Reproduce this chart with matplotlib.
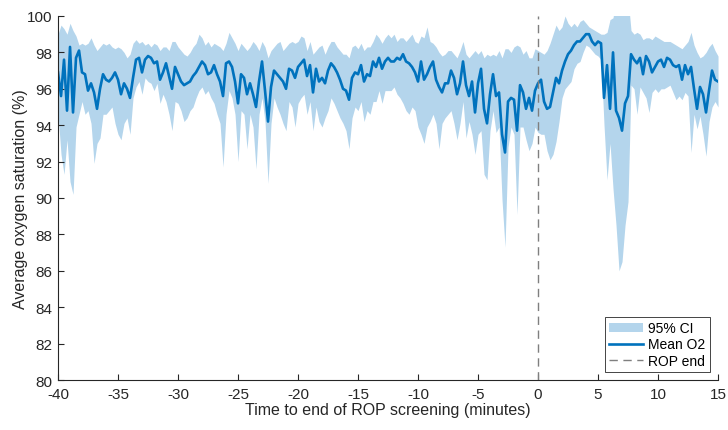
import numpy as np
import matplotlib
matplotlib.use("Agg")
import matplotlib.pyplot as plt

plt.rcParams['font.family'] = ['Liberation Sans', 'DejaVu Sans']
plt.rcParams['axes.unicode_minus'] = False

# time relative to end of ROP screening (minutes), 15 s resolution
t_start, t_end, t_step = -40.0, 15.0, 0.25

mean_o2 = [
    # -40 .. -31.25
    96.9, 95.6, 97.6, 94.8, 98.3, 94.7, 97.7, 98.1, 96.9, 96.8, 95.9, 96.3,
    95.8, 94.9, 96.0, 96.8, 96.5, 96.4, 96.6, 96.9, 96.5, 95.7, 96.3, 96.0,
    95.5, 96.6, 97.6, 97.7, 96.9, 97.6, 97.8, 97.7, 97.4, 97.5, 96.5, 96.9,
    # -31 .. -22
    97.4, 96.7, 96.0, 97.2, 96.8, 96.4, 96.2, 96.3, 96.4, 96.7, 96.9, 97.2,
    97.5, 97.3, 96.8, 96.9, 97.3, 96.8, 96.4, 95.6, 97.4, 97.5, 97.2, 96.4,
    95.2, 96.8, 96.6, 95.7, 96.3, 95.7, 95.0, 96.4, 97.5, 95.9, 94.2, 96.1,
    97.0,
    # -21.75 .. -12.75
    96.8, 96.6, 96.4, 96.0, 97.1, 97.0, 96.6, 97.2, 97.4, 97.6, 96.7, 97.3,
    95.8, 97.1, 96.4, 96.6, 96.3, 97.0, 97.4, 97.2, 96.9, 96.5, 96.0, 95.9,
    95.4, 96.6, 96.9, 96.8, 97.3, 96.4, 96.8, 96.7, 97.5, 97.2, 97.7, 97.1,
    97.5,
    # -12.5 .. -3.75
    97.7, 97.5, 97.5, 97.7, 97.6, 97.9, 97.5, 97.4, 97.2, 96.9, 96.4, 97.5,
    96.5, 96.8, 97.2, 97.5, 96.5, 96.1, 95.8, 96.3, 96.3, 97.0, 96.6, 95.7,
    96.3, 97.5, 96.2, 95.6, 96.4, 94.7, 96.3, 97.1, 94.9, 94.1, 95.7, 96.8,
    # -3.5 .. 15
    95.6, 95.8, 93.5, 92.5, 95.3, 95.5, 95.4, 93.7, 96.2, 95.8, 94.9, 95.5,
    94.8, 95.9, 96.3, 96.5, 95.3, 94.9, 95.0, 95.8, 96.6, 96.3, 97.0, 97.5,
    97.9, 98.1, 98.4, 98.6, 98.6, 98.8, 99.0, 99.0, 98.6, 98.4, 98.6, 98.5,
    95.5, 97.3, 94.9, 98.0, 94.8, 94.4, 93.7, 95.2, 95.6, 97.9, 97.6, 97.4,
    97.7, 96.8, 97.8, 97.5, 96.9, 97.2, 97.5, 97.6, 97.2, 97.7, 97.6, 97.3,
    97.2, 97.3, 96.5, 97.3, 96.8, 97.2, 96.0, 94.9, 96.1, 95.7, 94.7, 95.9,
    97.0, 96.5, 96.4,
]

ci_upper = [
    # -40 .. -31.25
    99.0, 99.5, 99.3, 99.0, 99.6, 99.2, 98.9, 98.4, 98.5, 98.4, 98.5, 98.8,
    98.4, 98.1, 98.3, 98.5, 98.4, 98.5, 98.3, 98.2, 98.3, 98.2, 98.0, 97.7,
    97.9, 98.5, 98.7, 98.5, 98.6, 98.4, 98.5, 98.3, 98.5, 98.4, 98.1, 98.3,
    # -31 .. -22
    98.3, 98.1, 98.6, 98.6, 98.3, 98.1, 97.9, 97.8, 98.0, 98.3, 98.5, 99.0,
    98.8, 98.4, 98.6, 98.3, 98.5, 98.4, 98.3, 98.1, 98.5, 99.1, 98.8, 98.5,
    98.1, 98.5, 98.3, 98.1, 98.3, 98.6, 98.4, 98.1, 98.6, 98.3, 97.7, 98.1,
    98.3,
    # -21.75 .. -12.75
    98.5, 98.6, 98.1, 98.3, 98.5, 98.6, 98.5, 98.6, 98.9, 98.8, 98.1, 98.6,
    97.9, 98.1, 98.3, 98.4, 97.9, 98.3, 98.6, 98.6, 98.3, 98.1, 97.9, 97.9,
    97.7, 98.3, 98.4, 98.2, 98.5, 98.1, 98.3, 98.3, 98.6, 99.0, 98.8, 98.5,
    98.8,
    # -12.5 .. -3.75
    99.0, 98.8, 99.0, 98.6, 98.8, 98.8, 98.6, 98.8, 99.0, 98.6, 98.5, 98.9,
    98.8, 99.4, 98.6, 98.5, 98.3, 98.0, 97.8, 97.9, 98.1, 98.1, 97.9, 97.7,
    98.1, 98.6, 97.9, 97.7, 97.9, 98.1, 97.9, 98.1, 97.7, 97.9, 97.8, 97.9,
    # -3.5 .. 15
    97.8, 98.1, 97.7, 98.2, 98.2, 98.0, 98.3, 98.4, 98.3, 97.9, 98.1, 97.7,
    97.7, 98.2, 98.1, 98.0, 97.9, 98.1, 98.5, 99.0, 99.5, 99.2, 99.4, 100.0,
    99.6, 99.4, 99.6, 99.4, 99.7, 99.8, 99.6, 99.4, 99.3, 99.2, 99.1, 99.0,
    99.0, 99.1, 99.8, 99.9, 101.0, 101.0, 101.0, 101.0, 101.0, 99.2, 99.0, 99.1,
    99.0, 98.7, 98.8, 98.8, 98.7, 98.9, 98.8, 98.7, 98.6, 98.6, 98.6, 98.5,
    98.4, 98.3, 98.2, 98.4, 98.6, 99.1, 98.4, 98.0, 97.7, 97.8, 98.0, 98.3,
    98.5, 98.1, 97.8,
]

ci_lower = [
    # -40 .. -31.25
    94.6, 92.4, 91.3, 93.2, 90.9, 90.2, 93.9, 94.6, 95.3, 94.6, 94.8, 94.1,
    91.9, 93.0, 93.3, 94.6, 94.6, 94.8, 95.0, 94.1, 93.5, 93.2, 94.1, 94.4,
    93.5, 95.5, 96.1, 96.4, 95.7, 96.6, 96.4, 96.3, 95.9, 96.3, 95.2, 95.7,
    # -31 .. -22
    95.3, 94.6, 93.7, 95.3, 95.2, 94.8, 94.2, 94.4, 94.8, 95.0, 95.5, 95.9,
    96.1, 95.7, 95.9, 95.5, 95.2, 94.6, 94.1, 91.7, 94.6, 95.9, 95.5, 94.6,
    92.0, 94.8, 94.6, 92.7, 94.6, 93.9, 91.6, 94.6, 95.5, 94.2, 90.8, 94.1,
    95.5,
    # -21.75 .. -12.75
    95.0, 94.6, 94.1, 93.7, 95.3, 95.0, 93.9, 95.2, 95.5, 95.7, 94.6, 95.3,
    93.7, 95.0, 94.2, 93.9, 94.4, 94.8, 95.5, 95.2, 94.8, 94.4, 94.1, 93.7,
    92.7, 94.4, 95.0, 94.8, 95.3, 94.2, 94.8, 94.6, 95.3, 95.3, 95.9, 95.2,
    95.9,
    # -12.5 .. -3.75
    95.9, 95.9, 96.1, 95.7, 95.5, 95.2, 94.8, 94.6, 95.0, 94.8, 93.9, 93.5,
    93.0, 93.9, 94.2, 94.6, 94.1, 92.7, 94.1, 94.4, 94.6, 94.8, 94.1, 93.2,
    94.1, 95.3, 93.3, 94.2, 93.5, 92.4, 93.5, 93.7, 91.3, 91.0, 93.7, 94.8,
    # -3.5 .. 15
    93.6, 93.9, 89.9, 87.3, 92.8, 93.9, 93.5, 89.1, 93.9, 93.9, 93.2, 92.6,
    93.0, 93.9, 93.6, 93.5, 93.5, 92.6, 92.1, 92.4, 93.1, 94.2, 95.5, 96.0,
    96.2, 96.4, 97.1, 97.4, 97.5, 98.0, 98.4, 98.3, 98.1, 97.9, 97.8, 97.6,
    94.0, 91.0, 93.0, 90.5, 88.5, 86.0, 86.5, 88.5, 89.8, 96.2, 96.0, 94.6,
    96.1, 95.8, 95.5, 94.7, 95.8, 96.0, 95.8, 96.0, 96.0, 96.1, 96.2, 95.8,
    95.4, 95.6, 95.4, 95.8, 95.6, 92.5, 94.6, 93.8, 94.5, 93.5, 92.3, 94.2,
    95.0, 95.3, 95.0,
]

x_ticks = [-40, -35, -30, -25, -20, -15, -10, -5, 0, 5, 10, 15]
y_ticks = [80, 82, 84, 86, 88, 90, 92, 94, 96, 98, 100]
rop_end = 0

minutes = np.arange(t_start, t_end + t_step / 2, t_step)

fig = plt.figure(figsize=(7.28, 4.31), dpi=100)
ax = fig.add_axes([0.0797, 0.116, 0.9066, 0.8446])

ci_color = '#b4d5ec'
line_color = '#0072bd'
axis_color = '#262626'

ax.fill_between(minutes, ci_lower, ci_upper, color=ci_color, linewidth=0,
                label='95% CI')
ax.plot(minutes, mean_o2, color=line_color, linewidth=1.9, label='Mean O2')
ax.axvline(rop_end, color='#7f7f7f', linestyle=(0, (6, 4)), linewidth=1.0,
           label='ROP end')

ax.set_xlim(x_ticks[0], x_ticks[-1])
ax.set_ylim(y_ticks[0], y_ticks[-1])
ax.set_xticks(x_ticks)
ax.set_yticks(y_ticks)

for side in ('top', 'right'):
    ax.spines[side].set_visible(False)
for side in ('left', 'bottom'):
    ax.spines[side].set_color(axis_color)
    ax.spines[side].set_linewidth(0.8)
ax.tick_params(direction='in', length=4, width=0.8, colors=axis_color,
               labelsize=11)
ax.tick_params(axis='x', pad=5)
ax.tick_params(axis='y', pad=4)

ax.set_xlabel('Time to end of ROP screening (minutes)', fontsize=11.5,
              color=axis_color, labelpad=1)
ax.set_ylabel('Average oxygen saturation (%)', fontsize=11.5,
              color=axis_color, labelpad=-1)

leg = ax.legend(loc='lower right', fontsize=10, frameon=True, fancybox=False,
                edgecolor='#262626', framealpha=1, borderpad=0.3,
                labelspacing=0.15, handlelength=2.4, handletextpad=0.4,
                borderaxespad=0.6)
leg.get_frame().set_linewidth(0.6)

fig.savefig('out.png', dpi=100)
